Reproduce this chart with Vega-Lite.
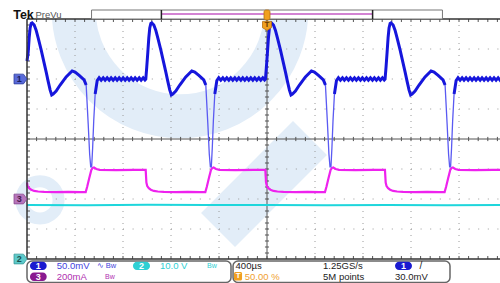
{
"$schema":"https://vega.github.io/schema/vega-lite/v6.json",
"width":480,"height":240,
"autosize":{"type":"none"},
"padding":{"left":27,"top":19,"right":0,"bottom":24},
"background":"white",
"config":{"view":{"stroke":null},"axis":{"disable":true},"text":{"font":"Liberation Sans"}},
"datasets":{
"blue":[
{"t":-2000,"v":2.6,"g":"s0"},{"t":-1990,"v":2.9,"g":"s0"},{"t":-1982,"v":3.37,"g":"s0"},{"t":-1974,"v":3.7,"g":"s0"},{"t":-1965,"v":3.85,"g":"s0"},{"t":-1957,"v":3.87,"g":"s0"},{"t":-1940,"v":3.8,"g":"s0"},{"t":-1924,"v":3.63,"g":"s0"},{"t":-1907,"v":3.37,"g":"s0"},{"t":-1882,"v":2.97,"g":"s0"},{"t":-1857,"v":2.53,"g":"s0"},{"t":-1840,"v":2.23,"g":"s0"},{"t":-1824,"v":1.93,"g":"s0"},{"t":-1807,"v":1.63,"g":"s0"},{"t":-1794,"v":1.47,"g":"s0"},{"t":-1782,"v":1.5,"g":"s0"},{"t":-1757,"v":1.6,"g":"s0"},{"t":-1724,"v":1.8,"g":"s0"},{"t":-1674,"v":2.07,"g":"s0"},{"t":-1624,"v":2.27,"g":"s0"},{"t":-1599,"v":2.23,"g":"s0"},{"t":-1565,"v":2.12,"g":"s0"},{"t":-1524,"v":1.97,"g":"s0"},{"t":-1507,"v":1.8,"g":"s0"},
{"t":-1490,"v":0.5,"g":"d"},{"t":-1478,"v":-0.5,"g":"d"},{"t":-1469,"v":-0.93,"g":"d"},{"t":-1461,"v":-0.93,"g":"d"},{"t":-1453,"v":-0.3,"g":"d"},{"t":-1444,"v":0.6,"g":"d"},
{"t":-1432,"v":1.5,"g":"s1"},{"t":-1415,"v":1.95,"g":"s1"},
{"t":-1399,"v":2.04,"g":"s1"},{"t":-1382,"v":1.96,"g":"s1"},{"t":-1365,"v":2.04,"g":"s1"},{"t":-1349,"v":1.96,"g":"s1"},{"t":-1332,"v":2.04,"g":"s1"},{"t":-1315,"v":1.96,"g":"s1"},{"t":-1299,"v":2.04,"g":"s1"},{"t":-1282,"v":1.96,"g":"s1"},{"t":-1265,"v":2.04,"g":"s1"},{"t":-1249,"v":1.96,"g":"s1"},{"t":-1232,"v":2.04,"g":"s1"},{"t":-1215,"v":1.96,"g":"s1"},{"t":-1199,"v":2.04,"g":"s1"},{"t":-1182,"v":1.96,"g":"s1"},{"t":-1165,"v":2.04,"g":"s1"},{"t":-1149,"v":1.96,"g":"s1"},{"t":-1132,"v":2.04,"g":"s1"},{"t":-1115,"v":1.96,"g":"s1"},{"t":-1099,"v":2.04,"g":"s1"},{"t":-1082,"v":1.96,"g":"s1"},{"t":-1065,"v":2.04,"g":"s1"},{"t":-1049,"v":1.96,"g":"s1"},{"t":-1032,"v":2.04,"g":"s1"},{"t":-1017,"v":1.97,"g":"s1"},
{"t":-1010,"v":2.0,"g":"s1"},{"t":-1002,"v":2.4,"g":"s1"},{"t":-993,"v":2.9,"g":"s1"},{"t":-985,"v":3.37,"g":"s1"},{"t":-977,"v":3.7,"g":"s1"},{"t":-968,"v":3.85,"g":"s1"},{"t":-960,"v":3.87,"g":"s1"},{"t":-943,"v":3.8,"g":"s1"},{"t":-927,"v":3.63,"g":"s1"},{"t":-910,"v":3.37,"g":"s1"},{"t":-885,"v":2.97,"g":"s1"},{"t":-860,"v":2.53,"g":"s1"},{"t":-843,"v":2.23,"g":"s1"},{"t":-827,"v":1.93,"g":"s1"},{"t":-810,"v":1.63,"g":"s1"},{"t":-797,"v":1.47,"g":"s1"},{"t":-785,"v":1.5,"g":"s1"},{"t":-760,"v":1.6,"g":"s1"},{"t":-727,"v":1.8,"g":"s1"},{"t":-677,"v":2.07,"g":"s1"},{"t":-627,"v":2.27,"g":"s1"},{"t":-602,"v":2.23,"g":"s1"},{"t":-568,"v":2.12,"g":"s1"},{"t":-527,"v":1.97,"g":"s1"},{"t":-510,"v":1.8,"g":"s1"},
{"t":-493,"v":0.5,"g":"d"},{"t":-481,"v":-0.5,"g":"d"},{"t":-472,"v":-0.93,"g":"d"},{"t":-464,"v":-0.93,"g":"d"},{"t":-456,"v":-0.3,"g":"d"},{"t":-447,"v":0.6,"g":"d"},
{"t":-435,"v":1.5,"g":"s2"},{"t":-418,"v":1.95,"g":"s2"},
{"t":-402,"v":2.04,"g":"s2"},{"t":-385,"v":1.96,"g":"s2"},{"t":-368,"v":2.04,"g":"s2"},{"t":-352,"v":1.96,"g":"s2"},{"t":-335,"v":2.04,"g":"s2"},{"t":-318,"v":1.96,"g":"s2"},{"t":-302,"v":2.04,"g":"s2"},{"t":-285,"v":1.96,"g":"s2"},{"t":-268,"v":2.04,"g":"s2"},{"t":-252,"v":1.96,"g":"s2"},{"t":-235,"v":2.04,"g":"s2"},{"t":-218,"v":1.96,"g":"s2"},{"t":-202,"v":2.04,"g":"s2"},{"t":-185,"v":1.96,"g":"s2"},{"t":-168,"v":2.04,"g":"s2"},{"t":-152,"v":1.96,"g":"s2"},{"t":-135,"v":2.04,"g":"s2"},{"t":-118,"v":1.96,"g":"s2"},{"t":-102,"v":2.04,"g":"s2"},{"t":-85,"v":1.96,"g":"s2"},{"t":-68,"v":2.04,"g":"s2"},{"t":-52,"v":1.96,"g":"s2"},{"t":-35,"v":2.04,"g":"s2"},{"t":-20,"v":1.97,"g":"s2"},
{"t":-13,"v":2.0,"g":"s2"},{"t":-5,"v":2.4,"g":"s2"},{"t":4,"v":2.9,"g":"s2"},{"t":12,"v":3.37,"g":"s2"},{"t":20,"v":3.7,"g":"s2"},{"t":29,"v":3.85,"g":"s2"},{"t":37,"v":3.87,"g":"s2"},{"t":54,"v":3.8,"g":"s2"},{"t":70,"v":3.63,"g":"s2"},{"t":87,"v":3.37,"g":"s2"},{"t":112,"v":2.97,"g":"s2"},{"t":137,"v":2.53,"g":"s2"},{"t":154,"v":2.23,"g":"s2"},{"t":170,"v":1.93,"g":"s2"},{"t":187,"v":1.63,"g":"s2"},{"t":200,"v":1.47,"g":"s2"},{"t":212,"v":1.5,"g":"s2"},{"t":237,"v":1.6,"g":"s2"},{"t":270,"v":1.8,"g":"s2"},{"t":320,"v":2.07,"g":"s2"},{"t":370,"v":2.27,"g":"s2"},{"t":395,"v":2.23,"g":"s2"},{"t":429,"v":2.12,"g":"s2"},{"t":470,"v":1.97,"g":"s2"},{"t":487,"v":1.8,"g":"s2"},
{"t":504,"v":0.5,"g":"d"},{"t":516,"v":-0.5,"g":"d"},{"t":525,"v":-0.93,"g":"d"},{"t":533,"v":-0.93,"g":"d"},{"t":541,"v":-0.3,"g":"d"},{"t":550,"v":0.6,"g":"d"},
{"t":562,"v":1.5,"g":"s3"},{"t":579,"v":1.95,"g":"s3"},
{"t":595,"v":2.04,"g":"s3"},{"t":612,"v":1.96,"g":"s3"},{"t":629,"v":2.04,"g":"s3"},{"t":645,"v":1.96,"g":"s3"},{"t":662,"v":2.04,"g":"s3"},{"t":679,"v":1.96,"g":"s3"},{"t":695,"v":2.04,"g":"s3"},{"t":712,"v":1.96,"g":"s3"},{"t":729,"v":2.04,"g":"s3"},{"t":745,"v":1.96,"g":"s3"},{"t":762,"v":2.04,"g":"s3"},{"t":779,"v":1.96,"g":"s3"},{"t":795,"v":2.04,"g":"s3"},{"t":812,"v":1.96,"g":"s3"},{"t":829,"v":2.04,"g":"s3"},{"t":845,"v":1.96,"g":"s3"},{"t":862,"v":2.04,"g":"s3"},{"t":879,"v":1.96,"g":"s3"},{"t":895,"v":2.04,"g":"s3"},{"t":912,"v":1.96,"g":"s3"},{"t":929,"v":2.04,"g":"s3"},{"t":945,"v":1.96,"g":"s3"},{"t":962,"v":2.04,"g":"s3"},{"t":977,"v":1.97,"g":"s3"},
{"t":984,"v":2.0,"g":"s3"},{"t":992,"v":2.4,"g":"s3"},{"t":1001,"v":2.9,"g":"s3"},{"t":1009,"v":3.37,"g":"s3"},{"t":1017,"v":3.7,"g":"s3"},{"t":1026,"v":3.85,"g":"s3"},{"t":1034,"v":3.87,"g":"s3"},{"t":1051,"v":3.8,"g":"s3"},{"t":1067,"v":3.63,"g":"s3"},{"t":1084,"v":3.37,"g":"s3"},{"t":1109,"v":2.97,"g":"s3"},{"t":1134,"v":2.53,"g":"s3"},{"t":1151,"v":2.23,"g":"s3"},{"t":1167,"v":1.93,"g":"s3"},{"t":1184,"v":1.63,"g":"s3"},{"t":1197,"v":1.47,"g":"s3"},{"t":1209,"v":1.5,"g":"s3"},{"t":1234,"v":1.6,"g":"s3"},{"t":1267,"v":1.8,"g":"s3"},{"t":1317,"v":2.07,"g":"s3"},{"t":1367,"v":2.27,"g":"s3"},{"t":1392,"v":2.23,"g":"s3"},{"t":1426,"v":2.12,"g":"s3"},{"t":1467,"v":1.97,"g":"s3"},{"t":1484,"v":1.8,"g":"s3"},
{"t":1501,"v":0.5,"g":"d"},{"t":1513,"v":-0.5,"g":"d"},{"t":1522,"v":-0.93,"g":"d"},{"t":1530,"v":-0.93,"g":"d"},{"t":1538,"v":-0.3,"g":"d"},{"t":1547,"v":0.6,"g":"d"},
{"t":1559,"v":1.5,"g":"s4"},{"t":1576,"v":1.95,"g":"s4"},
{"t":1592,"v":2.04,"g":"s4"},{"t":1609,"v":1.96,"g":"s4"},{"t":1626,"v":2.04,"g":"s4"},{"t":1642,"v":1.96,"g":"s4"},{"t":1659,"v":2.04,"g":"s4"},{"t":1676,"v":1.96,"g":"s4"},{"t":1692,"v":2.04,"g":"s4"},{"t":1709,"v":1.96,"g":"s4"},{"t":1726,"v":2.04,"g":"s4"},{"t":1742,"v":1.96,"g":"s4"},{"t":1759,"v":2.04,"g":"s4"},{"t":1776,"v":1.96,"g":"s4"},{"t":1792,"v":2.04,"g":"s4"},{"t":1809,"v":1.96,"g":"s4"},{"t":1826,"v":2.04,"g":"s4"},{"t":1842,"v":1.96,"g":"s4"},{"t":1859,"v":2.04,"g":"s4"},{"t":1876,"v":1.96,"g":"s4"},{"t":1892,"v":2.04,"g":"s4"},{"t":1909,"v":1.96,"g":"s4"},{"t":1926,"v":2.04,"g":"s4"},{"t":1942,"v":1.96,"g":"s4"},{"t":1959,"v":2.04,"g":"s4"},{"t":1974,"v":1.96,"g":"s4"},{"t":2000,"v":2.0,"g":"s4"}
],
"pink":[
{"t":-2000,"v":-1.45},{"t":-1995,"v":-1.57},{"t":-1982,"v":-1.64},{"t":-1965,"v":-1.69},{"t":-1940,"v":-1.73},{"t":-1907,"v":-1.75},{"t":-1857,"v":-1.76},{"t":-1757,"v":-1.77},{"t":-1657,"v":-1.76},{"t":-1557,"v":-1.77},{"t":-1511,"v":-1.77},{"t":-1499,"v":-1.6},{"t":-1482,"v":-1.32},{"t":-1464,"v":-1.03},{"t":-1454,"v":-0.97},{"t":-1442,"v":-0.95},{"t":-1422,"v":-1.0},{"t":-1394,"v":-1.03},{"t":-1257,"v":-1.04},{"t":-1107,"v":-1.03},
{"t":-1011,"v":-1.03},{"t":-1005,"v":-1.45},{"t":-998,"v":-1.57},{"t":-985,"v":-1.64},{"t":-968,"v":-1.69},{"t":-943,"v":-1.73},{"t":-910,"v":-1.75},{"t":-860,"v":-1.76},{"t":-760,"v":-1.77},{"t":-660,"v":-1.76},{"t":-560,"v":-1.77},{"t":-514,"v":-1.77},{"t":-502,"v":-1.6},{"t":-485,"v":-1.32},{"t":-467,"v":-1.03},{"t":-457,"v":-0.97},{"t":-445,"v":-0.95},{"t":-425,"v":-1.0},{"t":-397,"v":-1.03},{"t":-260,"v":-1.04},{"t":-110,"v":-1.03},
{"t":-14,"v":-1.03},{"t":-8,"v":-1.45},{"t":-1,"v":-1.57},{"t":12,"v":-1.64},{"t":29,"v":-1.69},{"t":54,"v":-1.73},{"t":87,"v":-1.75},{"t":137,"v":-1.76},{"t":237,"v":-1.77},{"t":337,"v":-1.76},{"t":437,"v":-1.77},{"t":483,"v":-1.77},{"t":495,"v":-1.6},{"t":512,"v":-1.32},{"t":530,"v":-1.03},{"t":540,"v":-0.97},{"t":552,"v":-0.95},{"t":572,"v":-1.0},{"t":600,"v":-1.03},{"t":737,"v":-1.04},{"t":887,"v":-1.03},
{"t":983,"v":-1.03},{"t":989,"v":-1.45},{"t":996,"v":-1.57},{"t":1009,"v":-1.64},{"t":1026,"v":-1.69},{"t":1051,"v":-1.73},{"t":1084,"v":-1.75},{"t":1134,"v":-1.76},{"t":1234,"v":-1.77},{"t":1334,"v":-1.76},{"t":1434,"v":-1.77},{"t":1480,"v":-1.77},{"t":1492,"v":-1.6},{"t":1509,"v":-1.32},{"t":1527,"v":-1.03},{"t":1537,"v":-0.97},{"t":1549,"v":-0.95},{"t":1569,"v":-1.0},{"t":1597,"v":-1.03},{"t":1734,"v":-1.04},{"t":1884,"v":-1.03},{"t":2000,"v":-1.03}
],
"cyan":[
{"t":-2000,"v":-2.2},{"t":-1500,"v":-2.21},{"t":-1000,"v":-2.19},{"t":-500,"v":-2.2},{"t":0,"v":-2.2},{"t":500,"v":-2.21},{"t":1000,"v":-2.2},{"t":1500,"v":-2.21},{"t":2000,"v":-2.2}
],
"xt":[{"t":-1920},{"t":-1840},{"t":-1760},{"t":-1680},{"t":-1600},{"t":-1520},{"t":-1440},{"t":-1360},{"t":-1280},{"t":-1200},{"t":-1120},{"t":-1040},{"t":-960},{"t":-880},{"t":-800},{"t":-720},{"t":-640},{"t":-560},{"t":-480},{"t":-400},{"t":-320},{"t":-240},{"t":-160},{"t":-80},{"t":0},{"t":80},{"t":160},{"t":240},{"t":320},{"t":400},{"t":480},{"t":560},{"t":640},{"t":720},{"t":800},{"t":880},{"t":960},{"t":1040},{"t":1120},{"t":1200},{"t":1280},{"t":1360},{"t":1440},{"t":1520},{"t":1600},{"t":1680},{"t":1760},{"t":1840},{"t":1920}],
"yt":[{"v":-3.8},{"v":-3.6},{"v":-3.4},{"v":-3.2},{"v":-3},{"v":-2.8},{"v":-2.6},{"v":-2.4},{"v":-2.2},{"v":-2},{"v":-1.8},{"v":-1.6},{"v":-1.4},{"v":-1.2},{"v":-1},{"v":-0.8},{"v":-0.6},{"v":-0.4},{"v":-0.2},{"v":0},{"v":0.2},{"v":0.4},{"v":0.6},{"v":0.8},{"v":1},{"v":1.2},{"v":1.4},{"v":1.6},{"v":1.8},{"v":2},{"v":2.2},{"v":2.4},{"v":2.6},{"v":2.8},{"v":3},{"v":3.2},{"v":3.4},{"v":3.6},{"v":3.8}],
"vg":[{"t":-1600},{"t":-1200},{"t":-800},{"t":-400},{"t":400},{"t":800},{"t":1200},{"t":1600}],
"hg":[{"v":-3},{"v":-2},{"v":-1},{"v":1},{"v":2},{"v":3}],
"one":[{}]
},
"layer":[
{"data":{"name":"one"},"mark":{"type":"point","shape":"circle","size":45239,"filled":false,"stroke":"#e2edf8","strokeWidth":44,"opacity":1,"clip":true},
 "encoding":{"x":{"datum":-725,"type":"quantitative","scale":{"domain":[-2000,2000],"nice":false,"zero":false}},"y":{"datum":4.3,"type":"quantitative","scale":{"domain":[-4,4],"nice":false,"zero":false}}}},
{"data":{"name":"one"},"mark":{"type":"rule","color":"#e2edf8","strokeWidth":48,"clip":true},
 "encoding":{"x":{"datum":-408,"type":"quantitative","scale":{"domain":[-2000,2000],"nice":false,"zero":false}},"y":{"datum":-3.03,"type":"quantitative","scale":{"domain":[-4,4],"nice":false,"zero":false}},"x2":{"datum":358},"y2":{"datum":0.03}}},
{"data":{"name":"one"},"mark":{"type":"point","shape":"circle","size":1385,"filled":false,"stroke":"#e2edf8","strokeWidth":12,"opacity":1},
 "encoding":{"x":{"datum":-1892,"type":"quantitative","scale":{"domain":[-2000,2000],"nice":false,"zero":false}},"y":{"datum":-2.03,"type":"quantitative","scale":{"domain":[-4,4],"nice":false,"zero":false}}}},
{"data":{"name":"vg"},"mark":{"type":"rule","color":"#9a9a9a","strokeWidth":1,"strokeDash":[1,5]},
 "encoding":{"x":{"field":"t","type":"quantitative","scale":{"domain":[-2000,2000],"nice":false,"zero":false}},"y":{"datum":4,"type":"quantitative","scale":{"domain":[-4,4],"nice":false,"zero":false}},"y2":{"datum":-4}}},
{"data":{"name":"hg"},"mark":{"type":"rule","color":"#9a9a9a","strokeWidth":1,"strokeDash":[1,8.6]},
 "encoding":{"y":{"field":"v","type":"quantitative","scale":{"domain":[-4,4],"nice":false,"zero":false}},"x":{"datum":-2000,"type":"quantitative","scale":{"domain":[-2000,2000],"nice":false,"zero":false}},"x2":{"datum":2000}}},
{"data":{"name":"one"},"mark":{"type":"rule","color":"#555555","strokeWidth":1},
 "encoding":{"x":{"datum":0,"type":"quantitative","scale":{"domain":[-2000,2000],"nice":false,"zero":false}},"y":{"datum":4,"type":"quantitative","scale":{"domain":[-4,4],"nice":false,"zero":false}},"y2":{"datum":-4}}},
{"data":{"name":"one"},"mark":{"type":"rule","color":"#555555","strokeWidth":1},
 "encoding":{"y":{"datum":0,"type":"quantitative","scale":{"domain":[-4,4],"nice":false,"zero":false}},"x":{"datum":-2000,"type":"quantitative","scale":{"domain":[-2000,2000],"nice":false,"zero":false}},"x2":{"datum":2000}}},
{"data":{"name":"xt"},"mark":{"type":"rule","color":"#555555","strokeWidth":1},
 "encoding":{"x":{"field":"t","type":"quantitative","scale":{"domain":[-2000,2000],"nice":false,"zero":false}},"y":{"datum":0.07,"type":"quantitative","scale":{"domain":[-4,4],"nice":false,"zero":false}},"y2":{"datum":-0.07}}},
{"data":{"name":"xt"},"mark":{"type":"rule","color":"#555555","strokeWidth":1},
 "encoding":{"x":{"field":"t","type":"quantitative","scale":{"domain":[-2000,2000],"nice":false,"zero":false}},"y":{"datum":4,"type":"quantitative","scale":{"domain":[-4,4],"nice":false,"zero":false}},"y2":{"datum":3.9}}},
{"data":{"name":"xt"},"mark":{"type":"rule","color":"#555555","strokeWidth":1},
 "encoding":{"x":{"field":"t","type":"quantitative","scale":{"domain":[-2000,2000],"nice":false,"zero":false}},"y":{"datum":-4,"type":"quantitative","scale":{"domain":[-4,4],"nice":false,"zero":false}},"y2":{"datum":-3.9}}},
{"data":{"name":"yt"},"mark":{"type":"rule","color":"#555555","strokeWidth":1},
 "encoding":{"y":{"field":"v","type":"quantitative","scale":{"domain":[-4,4],"nice":false,"zero":false}},"x":{"datum":-17,"type":"quantitative","scale":{"domain":[-2000,2000],"nice":false,"zero":false}},"x2":{"datum":17}}},
{"data":{"name":"yt"},"mark":{"type":"rule","color":"#555555","strokeWidth":1},
 "encoding":{"y":{"field":"v","type":"quantitative","scale":{"domain":[-4,4],"nice":false,"zero":false}},"x":{"datum":-2000,"type":"quantitative","scale":{"domain":[-2000,2000],"nice":false,"zero":false}},"x2":{"datum":-1975}}},
{"data":{"name":"cyan"},"mark":{"type":"line","color":"#1ed6dc","strokeWidth":2},
 "encoding":{"x":{"field":"t","type":"quantitative","scale":{"domain":[-2000,2000],"nice":false,"zero":false}},"y":{"field":"v","type":"quantitative","scale":{"domain":[-4,4],"nice":false,"zero":false}}}},
{"data":{"name":"pink"},"mark":{"type":"line","color":"#ee22ee","strokeWidth":2.2},
 "encoding":{"x":{"field":"t","type":"quantitative","scale":{"domain":[-2000,2000],"nice":false,"zero":false}},"y":{"field":"v","type":"quantitative","scale":{"domain":[-4,4],"nice":false,"zero":false}}}},
{"data":{"name":"blue"},"mark":{"type":"line","color":"#5a5af2","strokeWidth":1.3},
 "encoding":{"x":{"field":"t","type":"quantitative","scale":{"domain":[-2000,2000],"nice":false,"zero":false}},"y":{"field":"v","type":"quantitative","scale":{"domain":[-4,4],"nice":false,"zero":false}}}},
{"data":{"name":"blue"},"transform":[{"filter":"datum.g != 'd'"}],"mark":{"type":"line","color":"#1616dc","strokeWidth":3},
 "encoding":{"x":{"field":"t","type":"quantitative","scale":{"domain":[-2000,2000],"nice":false,"zero":false}},"y":{"field":"v","type":"quantitative","scale":{"domain":[-4,4],"nice":false,"zero":false}},"detail":{"field":"g","type":"nominal"}}},
{"data":{"name":"one"},"mark":{"type":"rule","color":"#333333","strokeWidth":1.5},
 "encoding":{"x":{"datum":-2000,"type":"quantitative","scale":{"domain":[-2000,2000],"nice":false,"zero":false}},"y":{"datum":4,"type":"quantitative","scale":{"domain":[-4,4],"nice":false,"zero":false}},"y2":{"datum":-4}}},
{"data":{"name":"one"},"mark":{"type":"rule","color":"#333333","strokeWidth":1.5},
 "encoding":{"y":{"datum":4,"type":"quantitative","scale":{"domain":[-4,4],"nice":false,"zero":false}},"x":{"datum":-2000,"type":"quantitative","scale":{"domain":[-2000,2000],"nice":false,"zero":false}},"x2":{"datum":2000}}},
{"data":{"name":"one"},"mark":{"type":"rule","color":"#333333","strokeWidth":1.5},
 "encoding":{"y":{"datum":-4,"type":"quantitative","scale":{"domain":[-4,4],"nice":false,"zero":false}},"x":{"datum":-2000,"type":"quantitative","scale":{"domain":[-2000,2000],"nice":false,"zero":false}},"x2":{"datum":2000}}},
{"data":{"name":"one"},"mark":{"type":"rect","fill":"white","stroke":"#777777","strokeWidth":1},
 "encoding":{"x":{"datum":-1462,"type":"quantitative","scale":{"domain":[-2000,2000],"nice":false,"zero":false}},"x2":{"datum":1462},"y":{"datum":4.3,"type":"quantitative","scale":{"domain":[-4,4],"nice":false,"zero":false}},"y2":{"datum":4.0}}},
{"data":{"name":"one"},"mark":{"type":"rule","color":"#c45ac4","strokeWidth":1.5},
 "encoding":{"y":{"datum":4.17,"type":"quantitative","scale":{"domain":[-4,4],"nice":false,"zero":false}},"x":{"datum":-880,"type":"quantitative","scale":{"domain":[-2000,2000],"nice":false,"zero":false}},"x2":{"datum":880}}},
{"data":{"name":"one"},"mark":{"type":"rule","color":"#222222","strokeWidth":1.5},
 "encoding":{"x":{"datum":-880,"type":"quantitative","scale":{"domain":[-2000,2000],"nice":false,"zero":false}},"y":{"datum":4.3,"type":"quantitative","scale":{"domain":[-4,4],"nice":false,"zero":false}},"y2":{"datum":4.0}}},
{"data":{"name":"one"},"mark":{"type":"rule","color":"#222222","strokeWidth":1.5},
 "encoding":{"x":{"datum":880,"type":"quantitative","scale":{"domain":[-2000,2000],"nice":false,"zero":false}},"y":{"datum":4.3,"type":"quantitative","scale":{"domain":[-4,4],"nice":false,"zero":false}},"y2":{"datum":4.0}}},
{"data":{"name":"one"},"mark":{"type":"rect","fill":"#f0a020","stroke":"#b87010","strokeWidth":0.8,"cornerRadius":2},
 "encoding":{"x":{"datum":-25,"type":"quantitative","scale":{"domain":[-2000,2000],"nice":false,"zero":false}},"x2":{"datum":25},"y":{"datum":4.3,"type":"quantitative","scale":{"domain":[-4,4],"nice":false,"zero":false}},"y2":{"datum":3.97}}},
{"data":{"name":"one"},"mark":{"type":"point","shape":"M-1,-1 L1,-1 L1,0.4 L0,1 L-1,0.4 Z","size":81,"filled":true,"fill":"#f0a020","stroke":"#b87010","strokeWidth":0.8,"opacity":1},
 "encoding":{"x":{"datum":0,"type":"quantitative","scale":{"domain":[-2000,2000],"nice":false,"zero":false}},"y":{"datum":3.77,"type":"quantitative","scale":{"domain":[-4,4],"nice":false,"zero":false}}}},
{"data":{"name":"one"},"mark":{"type":"text","text":"T","fontSize":8,"fontWeight":"bold","color":"#6a3a00","align":"center","baseline":"middle"},
 "encoding":{"x":{"datum":0,"type":"quantitative","scale":{"domain":[-2000,2000],"nice":false,"zero":false}},"y":{"datum":3.8,"type":"quantitative","scale":{"domain":[-4,4],"nice":false,"zero":false}}}},
{"data":{"name":"one"},"mark":{"type":"text","text":"Tek","fontSize":12.5,"fontWeight":"bold","color":"#111111","align":"left","baseline":"middle"},
 "encoding":{"x":{"datum":-2115,"type":"quantitative","scale":{"domain":[-2000,2000],"nice":false,"zero":false}},"y":{"datum":4.15,"type":"quantitative","scale":{"domain":[-4,4],"nice":false,"zero":false}}}},
{"data":{"name":"one"},"mark":{"type":"text","text":"PreVu","fontSize":9.5,"color":"#555555","align":"left","baseline":"middle"},
 "encoding":{"x":{"datum":-1930,"type":"quantitative","scale":{"domain":[-2000,2000],"nice":false,"zero":false}},"y":{"datum":4.14,"type":"quantitative","scale":{"domain":[-4,4],"nice":false,"zero":false}}}},
{"data":{"name":"one"},"mark":{"type":"point","shape":"M-1,-0.75 L0.45,-0.75 L1,0 L0.45,0.75 L-1,0.75 Z","size":169,"filled":true,"fill":"#5a6ad8","stroke":"#3040a0","strokeWidth":0.8,"opacity":1},
 "encoding":{"x":{"datum":-2054,"type":"quantitative","scale":{"domain":[-2000,2000],"nice":false,"zero":false}},"y":{"datum":2.0,"type":"quantitative","scale":{"domain":[-4,4],"nice":false,"zero":false}}}},
{"data":{"name":"one"},"mark":{"type":"point","shape":"M-1,-0.75 L0.45,-0.75 L1,0 L0.45,0.75 L-1,0.75 Z","size":169,"filled":true,"fill":"#b676bc","stroke":"#8a4a90","strokeWidth":0.8,"opacity":1},
 "encoding":{"x":{"datum":-2054,"type":"quantitative","scale":{"domain":[-2000,2000],"nice":false,"zero":false}},"y":{"datum":-2.0,"type":"quantitative","scale":{"domain":[-4,4],"nice":false,"zero":false}}}},
{"data":{"name":"one"},"mark":{"type":"point","shape":"M-1,-0.75 L0.45,-0.75 L1,0 L0.45,0.75 L-1,0.75 Z","size":169,"filled":true,"fill":"#5ecaca","stroke":"#3a9a9a","strokeWidth":0.8,"opacity":1},
 "encoding":{"x":{"datum":-2054,"type":"quantitative","scale":{"domain":[-2000,2000],"nice":false,"zero":false}},"y":{"datum":-4.0,"type":"quantitative","scale":{"domain":[-4,4],"nice":false,"zero":false}}}},
{"data":{"name":"one"},"mark":{"type":"text","text":"1","fontSize":9,"fontWeight":"bold","color":"#1a2060","align":"center","baseline":"middle"},
 "encoding":{"x":{"datum":-2065,"type":"quantitative","scale":{"domain":[-2000,2000],"nice":false,"zero":false}},"y":{"datum":2.0,"type":"quantitative","scale":{"domain":[-4,4],"nice":false,"zero":false}}}},
{"data":{"name":"one"},"mark":{"type":"text","text":"3","fontSize":9,"fontWeight":"bold","color":"#4a1a50","align":"center","baseline":"middle"},
 "encoding":{"x":{"datum":-2065,"type":"quantitative","scale":{"domain":[-2000,2000],"nice":false,"zero":false}},"y":{"datum":-2.0,"type":"quantitative","scale":{"domain":[-4,4],"nice":false,"zero":false}}}},
{"data":{"name":"one"},"mark":{"type":"text","text":"2","fontSize":9,"fontWeight":"bold","color":"#1a5050","align":"center","baseline":"middle"},
 "encoding":{"x":{"datum":-2065,"type":"quantitative","scale":{"domain":[-2000,2000],"nice":false,"zero":false}},"y":{"datum":-4.0,"type":"quantitative","scale":{"domain":[-4,4],"nice":false,"zero":false}}}},
{"data":{"name":"one"},"mark":{"type":"rect","fill":"none","stroke":"#666666","strokeWidth":1.5,"cornerRadius":5},
 "encoding":{"x":{"datum":-2000,"type":"quantitative","scale":{"domain":[-2000,2000],"nice":false,"zero":false}},"x2":{"datum":-300},"y":{"datum":-4.07,"type":"quantitative","scale":{"domain":[-4,4],"nice":false,"zero":false}},"y2":{"datum":-4.78}}},
{"data":{"name":"one"},"mark":{"type":"rect","fill":"none","stroke":"#666666","strokeWidth":1.5,"cornerRadius":5},
 "encoding":{"x":{"datum":-283,"type":"quantitative","scale":{"domain":[-2000,2000],"nice":false,"zero":false}},"x2":{"datum":1525},"y":{"datum":-4.07,"type":"quantitative","scale":{"domain":[-4,4],"nice":false,"zero":false}},"y2":{"datum":-4.78}}},
{"data":{"name":"one"},"mark":{"type":"rect","fill":"#1a1ad0","cornerRadius":4},
 "encoding":{"x":{"datum":-1975,"type":"quantitative","scale":{"domain":[-2000,2000],"nice":false,"zero":false}},"x2":{"datum":-1836},"y":{"datum":-4.09,"type":"quantitative","scale":{"domain":[-4,4],"nice":false,"zero":false}},"y2":{"datum":-4.37}}},
{"data":{"name":"one"},"mark":{"type":"rect","fill":"#2ed0d4","cornerRadius":4},
 "encoding":{"x":{"datum":-1117,"type":"quantitative","scale":{"domain":[-2000,2000],"nice":false,"zero":false}},"x2":{"datum":-975},"y":{"datum":-4.09,"type":"quantitative","scale":{"domain":[-4,4],"nice":false,"zero":false}},"y2":{"datum":-4.37}}},
{"data":{"name":"one"},"mark":{"type":"rect","fill":"#8a1a90","cornerRadius":4},
 "encoding":{"x":{"datum":-1975,"type":"quantitative","scale":{"domain":[-2000,2000],"nice":false,"zero":false}},"x2":{"datum":-1836},"y":{"datum":-4.45,"type":"quantitative","scale":{"domain":[-4,4],"nice":false,"zero":false}},"y2":{"datum":-4.73}}},
{"data":{"name":"one"},"mark":{"type":"rect","fill":"#1a1ad0","cornerRadius":4},
 "encoding":{"x":{"datum":1067,"type":"quantitative","scale":{"domain":[-2000,2000],"nice":false,"zero":false}},"x2":{"datum":1208},"y":{"datum":-4.09,"type":"quantitative","scale":{"domain":[-4,4],"nice":false,"zero":false}},"y2":{"datum":-4.37}}},
{"data":{"name":"one"},"mark":{"type":"rect","fill":"#f0a020","cornerRadius":1.5},
 "encoding":{"x":{"datum":-275,"type":"quantitative","scale":{"domain":[-2000,2000],"nice":false,"zero":false}},"x2":{"datum":-208},"y":{"datum":-4.43,"type":"quantitative","scale":{"domain":[-4,4],"nice":false,"zero":false}},"y2":{"datum":-4.72}}},
{"data":{"name":"one"},"mark":{"type":"text","text":"1","fontSize":9,"fontWeight":"bold","color":"white","align":"center","baseline":"middle"},
 "encoding":{"x":{"datum":-1906,"type":"quantitative","scale":{"domain":[-2000,2000],"nice":false,"zero":false}},"y":{"datum":-4.23,"type":"quantitative","scale":{"domain":[-4,4],"nice":false,"zero":false}}}},
{"data":{"name":"one"},"mark":{"type":"text","text":"2","fontSize":9,"fontWeight":"bold","color":"white","align":"center","baseline":"middle"},
 "encoding":{"x":{"datum":-1046,"type":"quantitative","scale":{"domain":[-2000,2000],"nice":false,"zero":false}},"y":{"datum":-4.23,"type":"quantitative","scale":{"domain":[-4,4],"nice":false,"zero":false}}}},
{"data":{"name":"one"},"mark":{"type":"text","text":"3","fontSize":9,"fontWeight":"bold","color":"white","align":"center","baseline":"middle"},
 "encoding":{"x":{"datum":-1906,"type":"quantitative","scale":{"domain":[-2000,2000],"nice":false,"zero":false}},"y":{"datum":-4.59,"type":"quantitative","scale":{"domain":[-4,4],"nice":false,"zero":false}}}},
{"data":{"name":"one"},"mark":{"type":"text","text":"1","fontSize":9,"fontWeight":"bold","color":"white","align":"center","baseline":"middle"},
 "encoding":{"x":{"datum":1137,"type":"quantitative","scale":{"domain":[-2000,2000],"nice":false,"zero":false}},"y":{"datum":-4.23,"type":"quantitative","scale":{"domain":[-4,4],"nice":false,"zero":false}}}},
{"data":{"name":"one"},"mark":{"type":"text","text":"T","fontSize":8,"fontWeight":"bold","color":"white","align":"center","baseline":"middle"},
 "encoding":{"x":{"datum":-241,"type":"quantitative","scale":{"domain":[-2000,2000],"nice":false,"zero":false}},"y":{"datum":-4.58,"type":"quantitative","scale":{"domain":[-4,4],"nice":false,"zero":false}}}},
{"data":{"name":"one"},"mark":{"type":"text","text":"50.0mV","fontSize":9.5,"color":"#4444dd","align":"left","baseline":"middle"},
 "encoding":{"x":{"datum":-1752,"type":"quantitative","scale":{"domain":[-2000,2000],"nice":false,"zero":false}},"y":{"datum":-4.22,"type":"quantitative","scale":{"domain":[-4,4],"nice":false,"zero":false}}}},
{"data":{"name":"one"},"mark":{"type":"text","text":"∿ Bw","fontSize":7.5,"color":"#4444dd","align":"left","baseline":"middle"},
 "encoding":{"x":{"datum":-1419,"type":"quantitative","scale":{"domain":[-2000,2000],"nice":false,"zero":false}},"y":{"datum":-4.22,"type":"quantitative","scale":{"domain":[-4,4],"nice":false,"zero":false}}}},
{"data":{"name":"one"},"mark":{"type":"text","text":"10.0 V","fontSize":9.5,"color":"#2ed0d4","align":"left","baseline":"middle"},
 "encoding":{"x":{"datum":-892,"type":"quantitative","scale":{"domain":[-2000,2000],"nice":false,"zero":false}},"y":{"datum":-4.22,"type":"quantitative","scale":{"domain":[-4,4],"nice":false,"zero":false}}}},
{"data":{"name":"one"},"mark":{"type":"text","text":"Bw","fontSize":7,"color":"#2ed0d4","align":"left","baseline":"middle"},
 "encoding":{"x":{"datum":-500,"type":"quantitative","scale":{"domain":[-2000,2000],"nice":false,"zero":false}},"y":{"datum":-4.22,"type":"quantitative","scale":{"domain":[-4,4],"nice":false,"zero":false}}}},
{"data":{"name":"one"},"mark":{"type":"text","text":"200mA","fontSize":9.5,"color":"#b030b0","align":"left","baseline":"middle"},
 "encoding":{"x":{"datum":-1752,"type":"quantitative","scale":{"domain":[-2000,2000],"nice":false,"zero":false}},"y":{"datum":-4.59,"type":"quantitative","scale":{"domain":[-4,4],"nice":false,"zero":false}}}},
{"data":{"name":"one"},"mark":{"type":"text","text":"Bw","fontSize":7,"color":"#b030b0","align":"left","baseline":"middle"},
 "encoding":{"x":{"datum":-1350,"type":"quantitative","scale":{"domain":[-2000,2000],"nice":false,"zero":false}},"y":{"datum":-4.59,"type":"quantitative","scale":{"domain":[-4,4],"nice":false,"zero":false}}}},
{"data":{"name":"one"},"mark":{"type":"text","text":"400µs","fontSize":9.5,"color":"#222222","align":"left","baseline":"middle"},
 "encoding":{"x":{"datum":-262,"type":"quantitative","scale":{"domain":[-2000,2000],"nice":false,"zero":false}},"y":{"datum":-4.22,"type":"quantitative","scale":{"domain":[-4,4],"nice":false,"zero":false}}}},
{"data":{"name":"one"},"mark":{"type":"text","text":"1.25GS/s","fontSize":9.5,"color":"#222222","align":"left","baseline":"middle"},
 "encoding":{"x":{"datum":467,"type":"quantitative","scale":{"domain":[-2000,2000],"nice":false,"zero":false}},"y":{"datum":-4.22,"type":"quantitative","scale":{"domain":[-4,4],"nice":false,"zero":false}}}},
{"data":{"name":"one"},"mark":{"type":"text","text":"/","fontSize":10,"color":"#222222","align":"left","baseline":"middle"},
 "encoding":{"x":{"datum":1270,"type":"quantitative","scale":{"domain":[-2000,2000],"nice":false,"zero":false}},"y":{"datum":-4.22,"type":"quantitative","scale":{"domain":[-4,4],"nice":false,"zero":false}}}},
{"data":{"name":"one"},"mark":{"type":"text","text":"50.00 %","fontSize":9.5,"color":"#f0a030","align":"left","baseline":"middle"},
 "encoding":{"x":{"datum":-185,"type":"quantitative","scale":{"domain":[-2000,2000],"nice":false,"zero":false}},"y":{"datum":-4.59,"type":"quantitative","scale":{"domain":[-4,4],"nice":false,"zero":false}}}},
{"data":{"name":"one"},"mark":{"type":"text","text":"5M points","fontSize":9.5,"color":"#222222","align":"left","baseline":"middle"},
 "encoding":{"x":{"datum":467,"type":"quantitative","scale":{"domain":[-2000,2000],"nice":false,"zero":false}},"y":{"datum":-4.59,"type":"quantitative","scale":{"domain":[-4,4],"nice":false,"zero":false}}}},
{"data":{"name":"one"},"mark":{"type":"text","text":"30.0mV","fontSize":9.5,"color":"#222222","align":"left","baseline":"middle"},
 "encoding":{"x":{"datum":1067,"type":"quantitative","scale":{"domain":[-2000,2000],"nice":false,"zero":false}},"y":{"datum":-4.59,"type":"quantitative","scale":{"domain":[-4,4],"nice":false,"zero":false}}}}
]
}
